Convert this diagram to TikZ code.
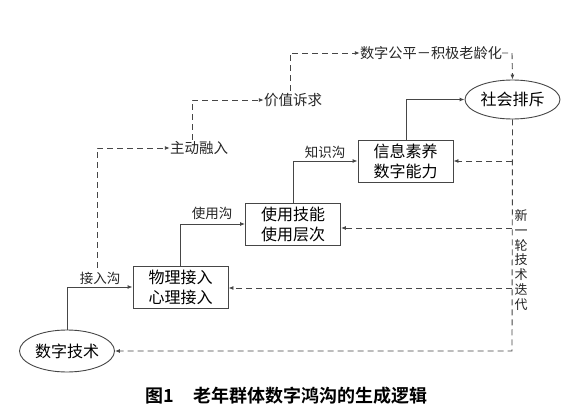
\documentclass[tikz,border=0pt]{standalone}
\usepackage{fontspec}
\setmainfont{Noto Sans CJK SC}
\newfontfamily\cjkbold{Noto Sans CJK SC Bold}
\usetikzlibrary{shapes.geometric,arrows.meta}
\definecolor{ln}{RGB}{70,70,70}
\tikzset{
  box/.style={draw=ln, line width=0.9pt, rectangle, minimum width=95pt, minimum height=42pt, inner sep=0pt, align=center, font=\fontsize{16}{20}\selectfont},
  oval/.style={draw=ln, line width=0.9pt, ellipse, inner sep=0pt, font=\fontsize{16}{20}\selectfont},
  lab/.style={inner sep=0pt, font=\fontsize{13.5}{15}\selectfont, text=black!85},
  solidarrow/.style={draw=ln, line width=0.9pt, -{Latex[length=5pt,width=4pt]}},
  dasharrow/.style={draw=ln, line width=0.9pt, dash pattern=on 6pt off 4pt, -{Latex[length=5pt,width=4pt]}}
}
\begin{document}
\begin{tikzpicture}[x=1pt,y=-1pt]
\useasboundingbox (0,0) rectangle (571,417);
\fill[white] (0,0) rectangle (571,417);
% nodes
\node[oval, minimum width=95pt, minimum height=42pt] (tech) at (67,351) {数字技术};
\node[box] (b1) at (180.5,287) {物理接入\\心理接入};
\node[box] (b2) at (293,224) {使用技能\\使用层次};
\node[box] (b3) at (405.5,161) {信息素养\\数字能力};
\node[oval, minimum width=95pt, minimum height=39pt] (soc) at (512.5,99.5) {社会排斥};
% labels
\node[lab] (l1) at (100,278) {接入沟};
\node[lab] (l2) at (212,213) {使用沟};
\node[lab] (l3) at (325,152) {知识沟};
\node[lab, font=\fontsize{14.5}{16}\selectfont] (zd) at (199,148) {主动融入};
\node[lab, font=\fontsize{14.5}{16}\selectfont] (jz) at (293,100) {价值诉求};
\node[lab, font=\fontsize{14.2}{16}\selectfont] (gp) at (431,53) {数字公平－积极老龄化};
\node[lab, align=center, font=\fontsize{13}{14.8}\selectfont] (xl) at (521,260) {新\\一\\轮\\技\\术\\迭\\代};
% coordinates
\coordinate (cA) at (97,268);
\coordinate (cR) at (512,53);
\coordinate (cB) at (512,351);
% solid connectors
\draw[solidarrow] (tech.north) -- (67,287) -- (b1.west);
\draw[solidarrow] (180,266) -- (180,224) -- (b2.west);
\draw[solidarrow] (293,203) -- (293,161) -- (b3.west);
\draw[solidarrow] (406,140) -- (406,99.5) -- (soc.west);
% dashed ascending path
\draw[dasharrow] (cA) -- (97,148) -- (zd.west);
\draw[dasharrow] (192,140) -- (192,100) -- (jz.west);
\draw[dasharrow] (290,91) -- (290,53) -- (gp.west);
\draw[dasharrow] (gp.east) -- (cR) -- (soc.north);
% feedback
\draw[dasharrow] (soc.south) -- (cB) -- (tech.east);
\draw[dasharrow] (512,161) -- (b3.east);
\draw[dasharrow] (512,228) -- (b2.east |- 0,228);
\draw[dasharrow] (512,288) -- (b1.east |- 0,288);
% caption
\node[anchor=west, inner sep=0pt, font=\fontsize{18}{20}\selectfont\cjkbold] (cap) at (145,396) {图1\hspace{20pt}老年群体数字鸿沟的生成逻辑};
\end{tikzpicture}
\end{document}
